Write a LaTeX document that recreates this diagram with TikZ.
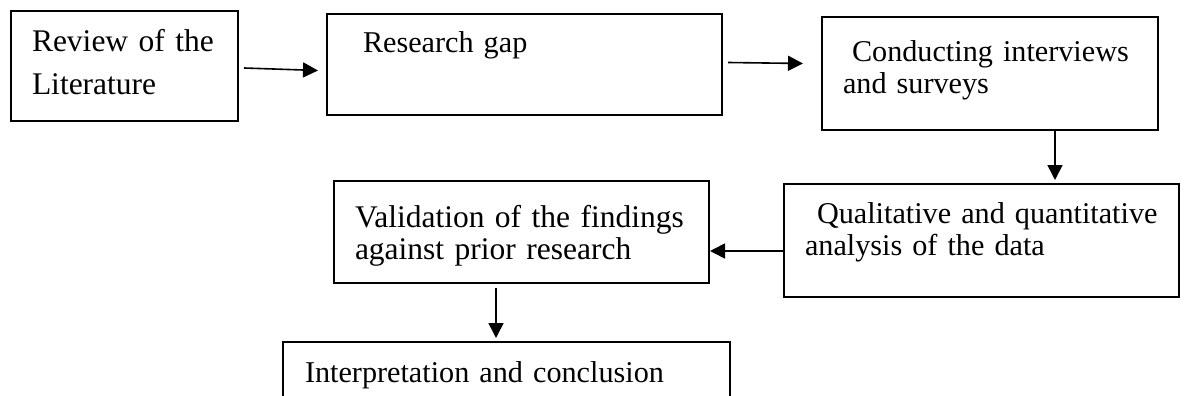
\documentclass[tikz,border=0pt]{standalone}
\usepackage{fontspec}
\setmainfont{Liberation Serif}
\usetikzlibrary{arrows.meta}
\begin{document}
\begin{tikzpicture}[x=1pt, y=-1pt, font=\fontsize{30.2}{32}\selectfont, >={Triangle[length=15pt,width=15pt]},
	stepbox/.style={draw, line width=2.6pt, anchor=north west, inner sep=0pt, outer sep=0pt, align=left},
	textinset/.style={execute at begin node={\leftskip=#1pt}},
	flow/.style={->, line width=1.6pt}]
	\useasboundingbox (0,0) rectangle (1184,396);
	% boxes, top row then bottom rows
	\node[stepbox, text width=227pt, text height=41pt, text depth=69pt, textinset=21, font=\fontsize{31.5}{43}\selectfont] (rev) at (11,11) {Review of the\\Literature};
	\node[stepbox, text width=395pt, text height=39pt, text depth=62pt, textinset=36] (gap) at (327,14) {Research gap};
	\node[stepbox, text width=336pt, text height=45pt, text depth=68pt, textinset=21] (surv) at (822,17) {\hspace*{9pt}Conducting interviews\\and surveys};
	\node[stepbox, text width=395pt, text height=39pt, text depth=74pt, textinset=21] (ana) at (784,184) {\hspace*{12pt}Qualitative and quantitative\\analysis of the data};
	\node[stepbox, text width=375pt, text height=46pt, text depth=56pt, textinset=21, font=\fontsize{31.5}{32}\selectfont] (val) at (334,181) {Validation of the findings\\against prior research};
	\node[stepbox, text width=447pt, text height=40pt, text depth=40pt, textinset=22] (conc) at (283,342) {Interpretation and conclusion};
	% arrows
	\draw[flow] ([shift={(6,2)}]rev.east) -- ([shift={(-9,6)}]gap.west);
	\draw[flow] ([shift={(6,-2)}]gap.east) -- ([shift={(-19,-10)}]surv.west);
	\draw[flow, shorten >=4pt] ([xshift=65pt]surv.south) -- ([xshift=65pt]surv.south |- ana.north);
	\draw[flow, shorten <=1pt, shorten >=1pt] ([yshift=-10.5pt]ana.west) -- ([yshift=-10.5pt]ana.west -| val.east);
	\draw[flow, shorten <=5pt, shorten >=4pt] ([xshift=-25.5pt]val.south) -- ([xshift=-25.5pt]val.south |- conc.north);
\end{tikzpicture}
\end{document}
